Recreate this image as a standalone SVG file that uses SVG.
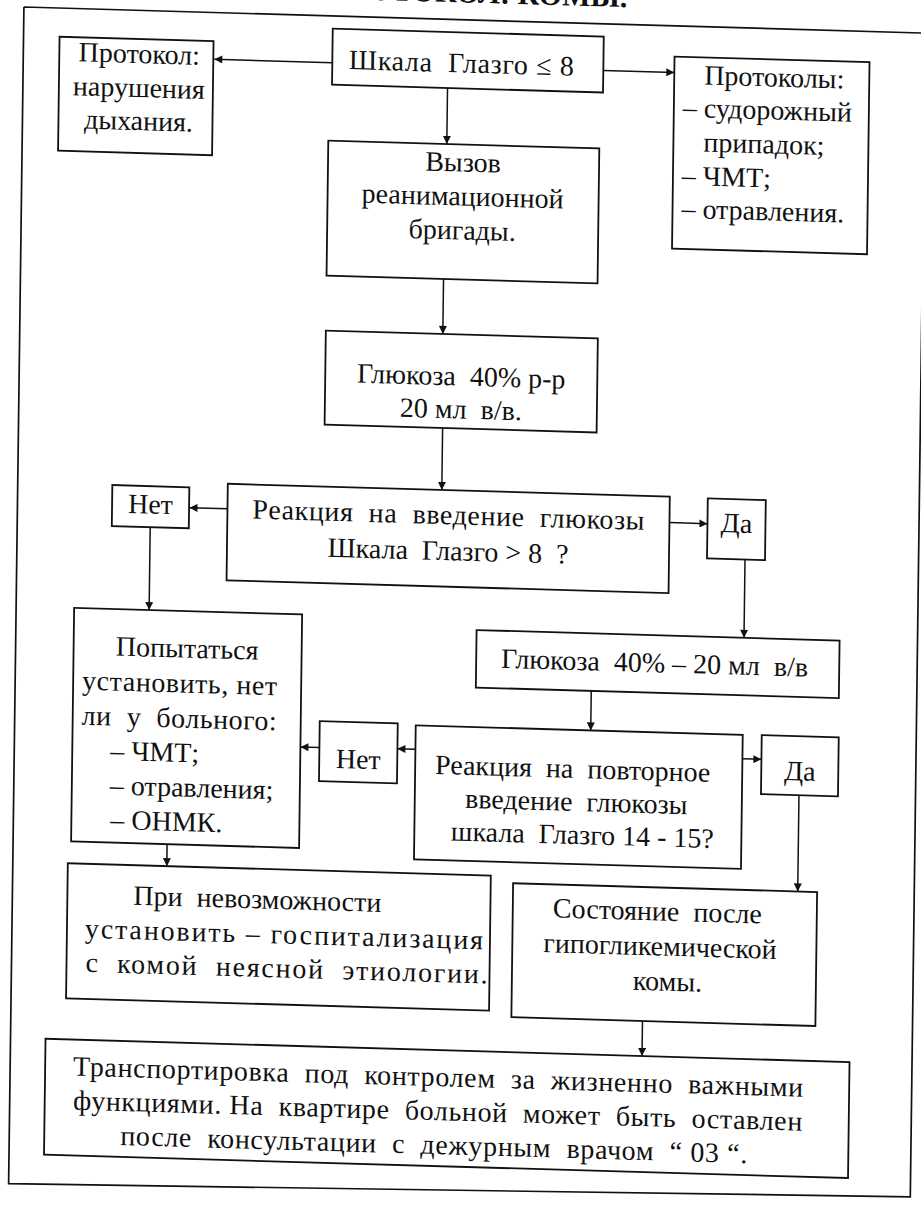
<svg xmlns="http://www.w3.org/2000/svg" width="921" height="1205" viewBox="0 0 921 1205">
<style>
.bx{fill:#fff;stroke:#111;stroke-width:1.8}
.fr{fill:none;stroke:#111;stroke-width:1.7}
.cn{fill:none;stroke:#111;stroke-width:1.5;marker-end:url(#ah)}
text{font-family:"Liberation Serif","Times New Roman",serif;font-size:28px;fill:#111;white-space:pre}
.m{text-anchor:middle}
.t{font-weight:bold;font-size:30px;text-anchor:end}
</style>
<defs>
<marker id="ah" viewBox="0 0 10 10" refX="10" refY="5" markerWidth="10" markerHeight="8" markerUnits="userSpaceOnUse" orient="auto"><path d="M0,0 L10,5 L0,10 z" fill="#111"/></marker>
</defs>
<rect x="0" y="0" width="921" height="1205" fill="#fff"/>
<g transform="matrix(1 0.029 -0.013 1 0 0)">
<g id="frame">
<text class="t" x="627" y="-11">ПРОТОКОЛ: КОМЫ.</text>
<path class="fr" d="M24,6.3 L980,6.3 M24,6.3 L24,1183 L925.5,1170 L925.5,280"/>
</g>
<g id="connectors">
<path class="cn" d="M333,53 L215,53"/>
<path class="cn" d="M604,53 L675,53"/>
<path class="cn" d="M448.5,75 L448.5,131"/>
<path class="cn" d="M447,266 L447,321"/>
<path class="cn" d="M448,415 L448,477"/>
<path class="cn" d="M234,502 L196,502"/>
<path class="cn" d="M676,503 L714,503"/>
<path class="cn" d="M157,523 L157,605.5"/>
<path class="cn" d="M752,538 L752,616"/>
<path class="cn" d="M600,673.5 L600,713"/>
<path class="cn" d="M425,737 L407,737"/>
<path class="cn" d="M329,738 L310,738"/>
<path class="cn" d="M752,737 L771,737"/>
<path class="cn" d="M809,772 L809,868"/>
<path class="cn" d="M178,839 L178,861"/>
<path class="cn" d="M655.5,1002 L655.5,1037"/>
</g>
<g id="n-protokol-dykh">
<rect class="bx" x="60" y="35" width="154" height="114"/>
<text class="m" x="140" y="59">Протокол:</text>
<text class="m" x="140" y="93">нарушения</text>
<text class="m" x="140" y="126">дыхания.</text>
</g>
<g id="n-glasgo8">
<rect class="bx" x="333" y="19" width="271" height="56"/>
<text class="m" x="462" y="59" textLength="225" lengthAdjust="spacing">Шкала  Глазго ≤ 8</text>
</g>
<g id="n-protokoly">
<rect class="bx" x="675" y="37" width="195" height="192"/>
<text class="m" x="775" y="64">Протоколы:</text>
<text x="684" y="97">– судорожный</text>
<text x="705" y="131">припадок;</text>
<text x="684" y="165">– ЧМТ;</text>
<text x="684" y="198">– отравления.</text>
</g>
<g id="n-vyzov">
<rect class="bx" x="330" y="131" width="271" height="135"/>
<text class="m" x="465" y="158">Вызов</text>
<text class="m" x="465" y="192">реанимационной</text>
<text class="m" x="465" y="226">бригады.</text>
</g>
<g id="n-glukoza1">
<rect class="bx" x="330" y="321" width="272" height="94"/>
<text class="m" x="466" y="372">Глюкоза  40% р-р</text>
<text class="m" x="466" y="405">20 мл  в/в.</text>
</g>
<g id="n-reakciya1">
<rect class="bx" x="234" y="477" width="442" height="96.5"/>
<text class="m" x="455" y="511" textLength="392" lengthAdjust="spacing">Реакция  на  введение  глюкозы</text>
<text class="m" x="455" y="547">Шкала  Глазго &gt; 8  ?</text>
</g>
<g id="n-net1">
<rect class="bx" x="118.6" y="481.6" width="77" height="41"/>
<text class="m" x="157" y="509">Нет</text>
</g>
<g id="n-da1">
<rect class="bx" x="714" y="477.7" width="58" height="60"/>
<text class="m" x="743" y="511">Да</text>
</g>
<g id="n-popytatsya">
<rect class="bx" x="82" y="605.5" width="228" height="233.5"/>
<text class="m" x="195.5" y="652">Попытаться</text>
<text x="91" y="687" textLength="195" lengthAdjust="spacing">установить, нет</text>
<text x="91" y="722" textLength="195" lengthAdjust="spacing">ли  у  больного:</text>
<text x="120" y="756.5">– ЧМТ;</text>
<text x="120" y="791">– отравления;</text>
<text x="121" y="825.5">– ОНМК.</text>
</g>
<g id="n-net2">
<rect class="bx" x="329" y="711.6" width="78" height="60"/>
<text class="m" x="368" y="758">Нет</text>
</g>
<g id="n-reakciya2">
<rect class="bx" x="425" y="713" width="327" height="134"/>
<text class="m" x="582.5" y="761">Реакция  на  повторное</text>
<text class="m" x="586.5" y="794">введение  глюкозы</text>
<text class="m" x="593" y="827">шкала  Глазго 14 - 15?</text>
</g>
<g id="n-da2">
<rect class="bx" x="771" y="712.8" width="77" height="59"/>
<text class="m" x="809.5" y="757">Да</text>
</g>
<g id="n-glukoza2">
<rect class="bx" x="484.6" y="616" width="363" height="57.5"/>
<text class="m" x="663" y="653">Глюкоза  40% – 20 мл  в/в</text>
</g>
<g id="n-sostoyanie">
<rect class="bx" x="524.4" y="868" width="304" height="134"/>
<text class="m" x="669" y="901">Состояние  после</text>
<text class="m" x="672" y="936">гипогликемической</text>
<text class="m" x="680" y="971">комы.</text>
</g>
<g id="n-pri-nevozm">
<rect class="bx" x="79" y="861" width="423" height="135"/>
<text x="145" y="900.5">При  невозможности</text>
<text x="97" y="935" textLength="398" lengthAdjust="spacing">установить – госпитализация</text>
<text x="98" y="969" textLength="402" lengthAdjust="spacing">с  комой  неясной  этиологии.</text>
</g>
<g id="n-transport">
<rect class="bx" x="59" y="1037" width="804" height="116"/>
<text class="m" x="452" y="1073" textLength="730" lengthAdjust="spacing">Транспортировка  под  контролем  за  жизненно  важными</text>
<text class="m" x="452" y="1107" textLength="729" lengthAdjust="spacing">функциями. На  квартире  больной  может  быть  оставлен</text>
<text class="m" x="448.5" y="1141" textLength="627" lengthAdjust="spacing">после  консультации  с  дежурным  врачом  “ 03 “.</text>
</g>
</g>
</svg>
